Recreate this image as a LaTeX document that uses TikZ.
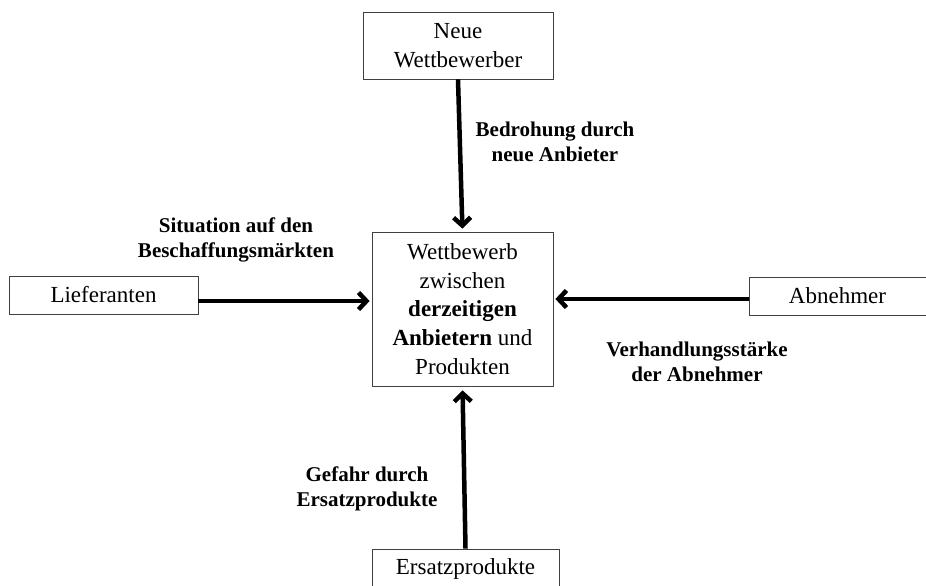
\documentclass[tikz,border=0pt]{standalone}
\usepackage{fontspec}
\setmainfont{Liberation Serif}
\usetikzlibrary{arrows.meta,calc}
\begin{document}
\begin{tikzpicture}[x=1pt,y=-1pt,
 box/.style={draw=black!75, line width=0.8pt, align=center, inner sep=0pt, font=\fontsize{23}{28.7}\selectfont},
 lbl/.style={align=center, inner sep=0pt, font=\fontsize{21}{24.5}\selectfont\bfseries},
 arr/.style={line width=4.5pt, -{Straight Barb[length=8pt,width=17pt]}}]
\useasboundingbox (0,0) rectangle (926,586);
\clip (0,0) rectangle (926,586);
\node[box, minimum width=190, minimum height=67] (neu) at (458,45.5) {Neue\\Wettbewerber};
\node[box, minimum width=181, minimum height=154] (mid) at (462.5,309) {Wettbewerb\\zwischen\\\textbf{derzeitigen}\\\textbf{Anbietern} und\\Produkten};
\node[box, minimum width=189, minimum height=38] (lief) at (103.5,295) {Lieferanten};
\node[box, minimum width=177, minimum height=38] (abn) at (837.5,296) {Abnehmer};
\node[box, minimum width=187, minimum height=39] (ers) at (465.5,568.5) {Ersatzprodukte};
\draw[arr, shorten >=3pt] (neu.south) -- (mid.north);
\draw[arr, shorten >=2pt] ($(lief.east)+(0,6)$) -- ($(lief.east -| mid.west)+(0,6)$);
\draw[arr, shorten >=2pt] ($(abn.west)+(0,3)$) -- ($(abn.west -| mid.east)+(0,3)$);
\draw[arr, shorten >=4pt] (ers.north) -- (mid.south);
\node[lbl] (l1) at (555,142) {Bedrohung durch\\neue Anbieter};
\node[lbl] (l2) at (236,240) {Situation auf den\\Beschaffungsmärkten};
\node[lbl] (l3) at (697,362) {Verhandlungsstärke\\der Abnehmer};
\node[lbl] (l4) at (367,489) {Gefahr durch\\Ersatzprodukte};
\end{tikzpicture}
\end{document}
